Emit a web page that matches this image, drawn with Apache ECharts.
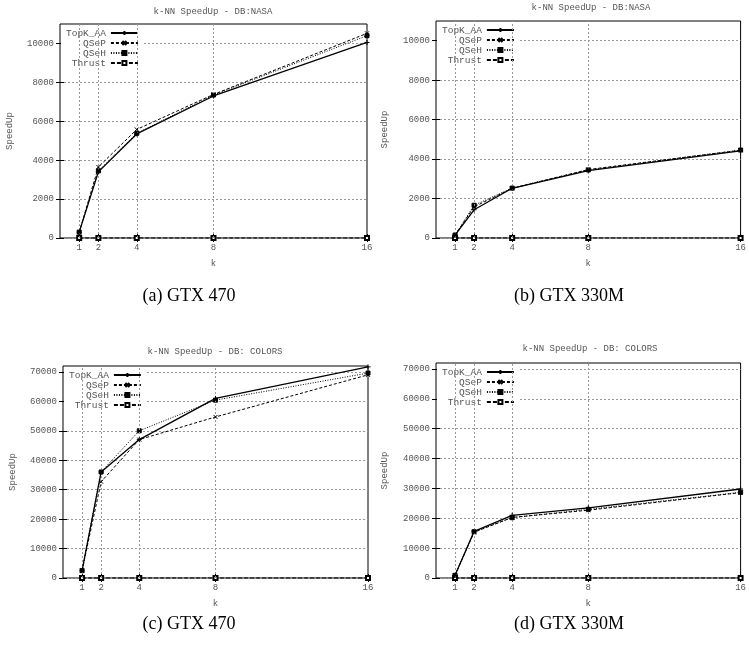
<!DOCTYPE html>
<html>
<head>
<meta charset="utf-8">
<script src="https://cdn.jsdelivr.net/npm/echarts@6/dist/echarts.min.js"></script>
<style>
  html, body { margin: 0; padding: 0; background: #fff; }
  #main { width: 749px; height: 648px; }
</style>
</head>
<body>
<div id="main"></div>
<script>
// --- data ---
var kValues = [1, 2, 4, 8, 16];
var seriesNames = ['TopK_AA', 'QSeP', 'QSeH', 'Thrust'];

// (a) NASA, GTX 470
var nasa470TopK = [300, 3400, 5350, 7300, 10050];
var nasa470QSeP = [300, 3650, 5580, 7380, 10520];
var nasa470QSeH = [300, 3450, 5380, 7350, 10400];
var nasa470Thrust = [1, 1, 1, 1, 1];

// (b) NASA, GTX 330M
var nasa330TopK = [150, 1430, 2520, 3420, 4420];
var nasa330QSeP = [150, 1580, 2520, 3470, 4450];
var nasa330QSeH = [150, 1660, 2530, 3450, 4460];
var nasa330Thrust = [1, 1, 1, 1, 1];

// (c) COLORS, GTX 470
var colors470TopK = [2500, 36000, 47000, 61000, 71700];
var colors470QSeP = [2500, 32700, 47000, 54700, 69000];
var colors470QSeH = [2500, 36000, 50000, 60400, 69600];
var colors470Thrust = [1, 1, 1, 1, 1];

// (d) COLORS, GTX 330M
var colors330TopK = [900, 15600, 21000, 23500, 29800];
var colors330QSeP = [900, 15300, 20300, 22700, 28600];
var colors330QSeH = [900, 15500, 20200, 23000, 28700];
var colors330Thrust = [1, 1, 1, 1, 1];

var nasaTicks = [0, 2000, 4000, 6000, 8000, 10000];
var colorsTicks = [0, 10000, 20000, 30000, 40000, 50000, 60000, 70000];

var panels = [
    {title: 'k-NN SpeedUp - DB:NASA', caption: '(a) GTX 470', data: [nasa470TopK, nasa470QSeP, nasa470QSeH, nasa470Thrust], ticks: nasaTicks, max: 11000, interval: 2000},
    {title: 'k-NN SpeedUp - DB:NASA', caption: '(b) GTX 330M', data: [nasa330TopK, nasa330QSeP, nasa330QSeH, nasa330Thrust], ticks: nasaTicks, max: 11000, interval: 2000},
    {title: 'k-NN SpeedUp - DB: COLORS', caption: '(c) GTX 470', data: [colors470TopK, colors470QSeP, colors470QSeH, colors470Thrust], ticks: colorsTicks, max: 72000, interval: 10000},
    {title: 'k-NN SpeedUp - DB: COLORS', caption: '(d) GTX 330M', data: [colors330TopK, colors330QSeP, colors330QSeH, colors330Thrust], ticks: colorsTicks, max: 72000, interval: 10000}
];

// --- layout ---
var grids = [
    {left: 60, top: 24, width: 307, height: 214},
    {left: 436, top: 21, width: 311, height: 217},
    {left: 63, top: 366, width: 305, height: 212},
    {left: 436, top: 363, width: 308, height: 215}
];
var titlePos = [[213, 7], [591, 3], [215, 347], [590, 344]];
var captionPos = [[189, 287], [569, 287], [189, 615], [569, 615]];
var legendPos = [[61, 25], [437, 22], [64, 367], [437, 364]];

var mono = 'Liberation Mono';
var textGray = '#555';
var gridGray = '#999';

var styles = [
    {symbol: 'path://M5,0L5,10M0,5L10,5', size: 5, line: {color: '#000', width: 1.3, type: 'solid'}},
    {symbol: 'path://M0,0L10,10M10,0L0,10', size: 4, line: {color: '#000', width: 1, type: [3, 2]}},
    {symbol: 'rect', size: 4, line: {color: '#000', width: 1, type: [1, 1.5]}},
    {symbol: 'emptyRect', size: 4, line: {color: '#000', width: 1, type: [4, 2]}}
];

var option = {
    backgroundColor: '#fff',
    animation: false,
    title: [],
    legend: [],
    grid: [],
    xAxis: [],
    yAxis: [],
    series: []
};

panels.forEach(function (p, i) {
    option.title.push({
        text: p.title, left: titlePos[i][0], top: titlePos[i][1], textAlign: 'center', padding: 0,
        textStyle: {fontFamily: mono, fontSize: 9, fontWeight: 'normal', color: textGray}
    });
    option.title.push({
        text: p.caption, left: captionPos[i][0], top: captionPos[i][1], textAlign: 'center', padding: 0,
        textStyle: {fontFamily: 'Liberation Serif', fontSize: 18, fontWeight: 'normal', color: '#000'}
    });
    option.grid.push({
        left: grids[i].left, top: grids[i].top, width: grids[i].width, height: grids[i].height,
        show: true, borderColor: '#000', borderWidth: 1, backgroundColor: 'transparent'
    });
    option.legend.push({
        left: legendPos[i][0], top: legendPos[i][1], orient: 'vertical', align: 'right',
        padding: [3, 5, 2, 5], itemGap: 0, itemWidth: 27, itemHeight: 5,
        backgroundColor: '#fff', data: seriesNames,
        formatter: function (name) { return ('       ' + name).slice(-7); },
        textStyle: {fontFamily: mono, fontSize: 9.5, lineHeight: 9.7, color: textGray, padding: [0, 0, 0, 0]}
    });
    option.xAxis.push({
        type: 'value', gridIndex: i, min: 0, max: 16,
        name: 'k', nameLocation: 'middle', nameGap: 21,
        nameTextStyle: {fontFamily: mono, fontSize: 9, color: textGray},
        axisLine: {show: false},
        axisTick: {show: true, inside: true, length: 4, customValues: kValues, lineStyle: {color: '#000'}},
        axisLabel: {customValues: kValues, margin: 5, fontFamily: mono, fontSize: 9, color: textGray},
        splitLine: {show: false}
    });
    option.yAxis.push({
        type: 'value', gridIndex: i, min: 0, max: p.max, interval: p.interval,
        name: 'SpeedUp', nameLocation: 'middle', nameGap: i % 2 === 0 ? 46 : 47,
        nameTextStyle: {fontFamily: mono, fontSize: 9, color: textGray},
        axisLine: {show: false},
        axisTick: {show: true, inside: true, length: 4, customValues: p.ticks, lineStyle: {color: '#000'}},
        axisLabel: {
            customValues: p.ticks, margin: 6, fontFamily: mono, fontSize: 9, color: textGray,
            formatter: function (v) { return String(v); }
        },
        splitLine: {show: true, lineStyle: {color: gridGray, width: 1, type: [2, 2]}}
    });
    seriesNames.forEach(function (name, s) {
        var st = styles[s];
        var ser = {
            name: name, type: 'line', xAxisIndex: i, yAxisIndex: i,
            data: kValues.map(function (k, j) { return [k, p.data[s][j]]; }),
            symbol: st.symbol, symbolSize: st.size, showAllSymbol: true,
            lineStyle: st.line,
            itemStyle: {color: '#000', borderColor: '#000', borderWidth: 1},
            emphasis: {disabled: true},
            clip: false,
            z: 3 + (3 - s)
        };
        if (s === 3) {
            // vertical grid lines at the k ticks
            ser.markLine = {
                silent: true, symbol: 'none', label: {show: false},
                lineStyle: {color: gridGray, width: 1, type: [2, 2]},
                data: [{xAxis: 1}, {xAxis: 2}, {xAxis: 4}, {xAxis: 8}]
            };
        }
        option.series.push(ser);
    });
});

// mirrored ticks on the top and right borders (gnuplot style)
panels.forEach(function (p, i) {
    option.xAxis.push({
        type: 'value', gridIndex: i, position: 'top', min: 0, max: 16,
        axisLine: {show: false}, axisLabel: {show: false}, splitLine: {show: false},
        axisTick: {show: true, inside: true, length: 4, customValues: kValues, lineStyle: {color: '#000'}}
    });
    option.yAxis.push({
        type: 'value', gridIndex: i, position: 'right', min: 0, max: p.max, interval: p.interval,
        axisLine: {show: false}, axisLabel: {show: false}, splitLine: {show: false},
        axisTick: {show: true, inside: true, length: 4, customValues: p.ticks, lineStyle: {color: '#000'}}
    });
});

var chart = echarts.init(document.getElementById('main'));
chart.setOption(option);
</script>
</body>
</html>
